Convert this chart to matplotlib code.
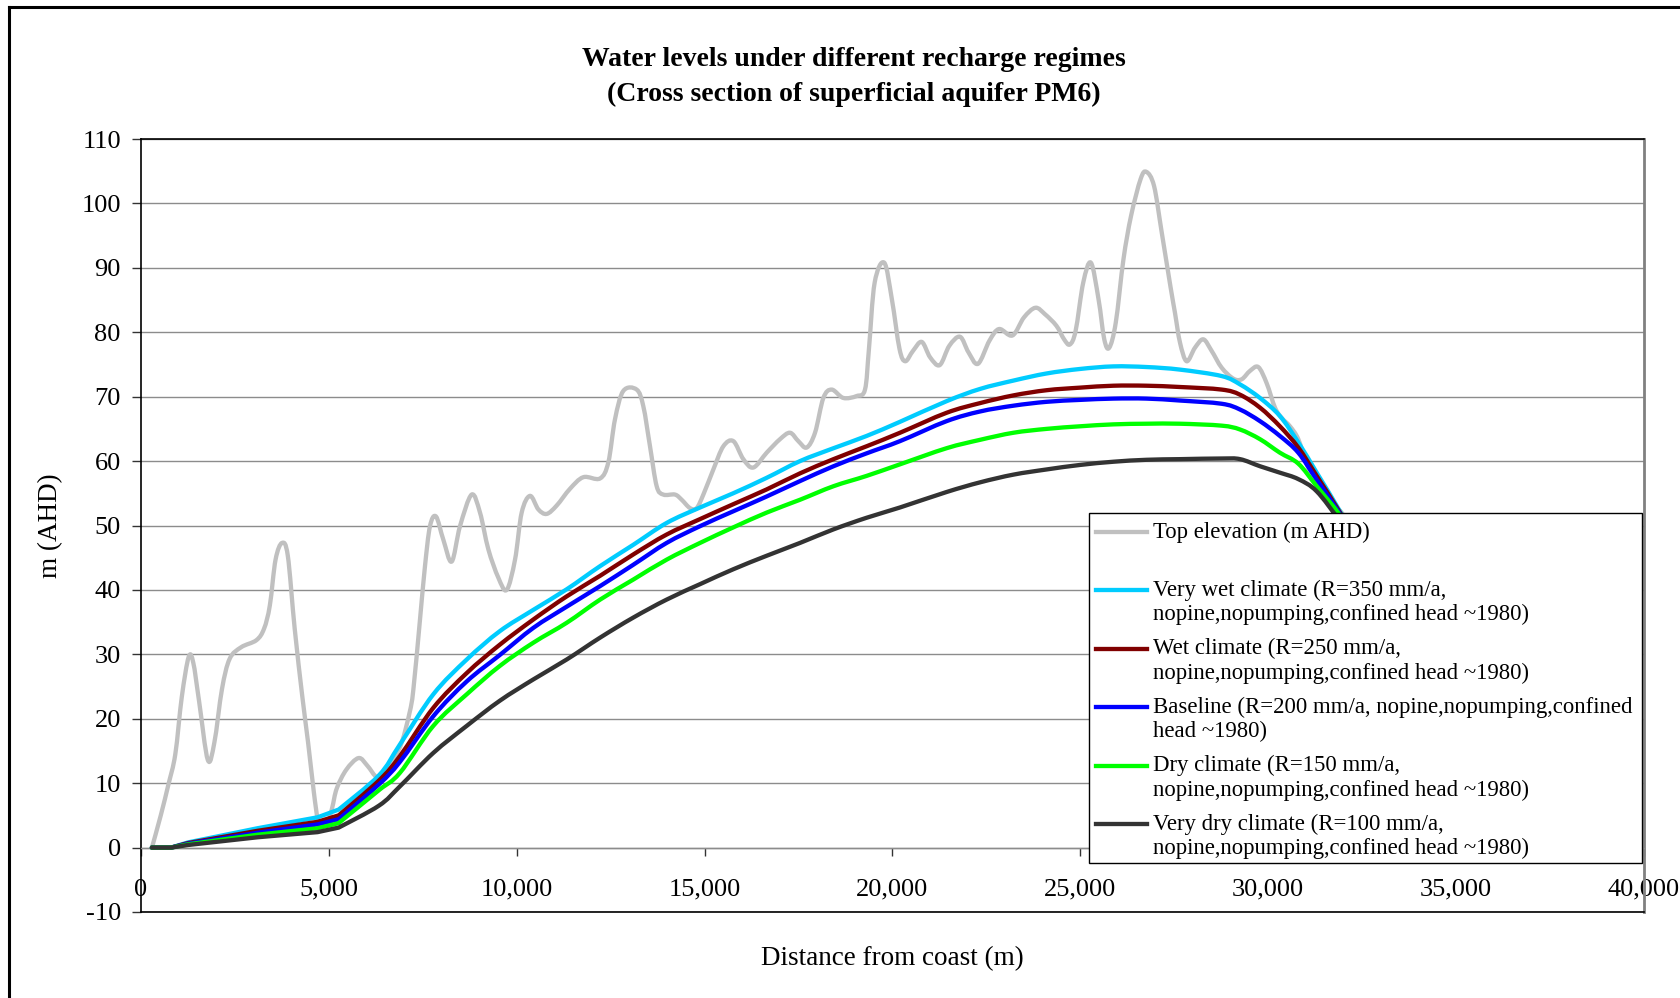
import matplotlib
matplotlib.use("Agg")
import matplotlib.pyplot as plt
from matplotlib.lines import Line2D
from matplotlib.patches import Rectangle, PathPatch
from matplotlib.path import Path
from matplotlib.ticker import StrMethodFormatter, MultipleLocator

plt.rcParams['font.family'] = ['Liberation Serif', 'DejaVu Serif']
plt.rcParams['axes.unicode_minus'] = False

# ---------------- data ----------------
# ground surface along the transect (distance from coast in m, elevation m AHD)
top_x = [291, 526, 730, 913, 1086, 1269, 1391, 1544, 1778, 1952, 2155, 2359, 2665,
         3072, 3276, 3429, 3581, 3754, 3907, 4090, 4294, 4447, 4600, 4700, 4780,
         4980, 5089, 5211, 5465, 5791, 6026, 6280, 6500, 6750, 6950, 7150, 7248,
         7425, 7558, 7691, 7851, 8046, 8268, 8490, 8800, 9022, 9244, 9510, 9732,
         9954, 10131, 10353, 10575, 10797, 11063, 11417, 11772, 12216, 12437,
         12615, 12837, 13192, 13369, 13546, 13724, 13901, 14212, 14389, 14611,
         14788, 14966, 15232, 15498, 15764, 16030, 16297, 16651, 17006, 17272,
         17494, 17716, 17938, 18160, 18382, 18692, 19047, 19268, 19373, 19525,
         19780, 19984, 20187, 20340, 20544, 20778, 21002, 21257, 21512, 21797,
         22021, 22275, 22581, 22836, 23192, 23498, 23803, 24058, 24363, 24567,
         24720, 24873, 25076, 25280, 25484, 25636, 25769, 25942, 26146, 26350,
         26604, 26757, 26961, 27165, 27400, 27518, 27651, 27828, 28050, 28272,
         28494, 28760, 29070, 29292, 29514, 29735, 29957, 30179, 30357, 30578,
         30800, 31022, 31288, 31643, 31953, 32300]
top_elev = [0, 5, 9.8, 14.5, 23.4, 29.6, 28.7, 22.8, 13.6, 16.3, 24.6, 29.3, 31.1,
            32.2, 34, 37.6, 44.7, 47.3, 45.3, 34, 23.4, 16.3, 8.6, 4.5, 3.8,
            4.2, 6.2, 9.2, 12.1, 13.9, 12.7, 10.9, 11.5, 14, 16.5, 21, 24.5,
            35.4, 43.7, 49.9, 51.4, 47.8, 44.4, 49.9, 54.8, 52, 46.3, 41.9, 40,
            44.7, 52, 54.6, 52.5, 51.8, 53.1, 55.7, 57.5, 57.3, 59.8,
            66.5, 70.9, 71.1, 68.5, 62.3, 56.1, 54.8, 54.8, 54, 52.7,
            52.7, 54.8, 58.7, 62.3, 63.1, 60.3, 59, 61.3, 63.4, 64.4,
            63.1, 62.1, 64.4, 69.8, 71.1, 69.8, 70.1, 71.1, 77.4, 87.7,
            90.8, 85.1, 77.4, 75.5, 77.1, 78.5, 76.1, 74.9, 77.9, 79.3,
            76.9, 75.1, 78.7, 80.5, 79.5, 82.3, 83.8, 82.8, 81, 78.9,
            78.1, 80.2, 87.7, 90.8, 85.1, 78.9, 77.6, 81.5, 91.3, 98.1,
            103.8, 104.9, 102.7, 95.5, 87, 83, 78.4, 75.5, 77.6, 78.9,
            77.1, 74.5, 72.8, 72.7, 74, 74.6, 72.1, 68.3, 66.7, 65.4,
            63.4, 59.5, 56.6, 53.5, 52, 48.5]

# model nodes shared by the simulated water-level profiles
head_x = [290, 800, 1250, 3100, 4700, 5260, 6330, 6890, 7780, 8670, 9550, 10440,
          11330, 12220, 13100, 13990, 14880, 15760, 16650, 17540, 18430, 19310,
          20200, 21440, 22330, 23220, 24100, 24990, 25880, 26760, 27650, 28760,
          29250, 29780, 30310, 30800, 31290, 31910, 32400]
very_wet = [0, 0, 0.8, 3.0, 4.7, 5.9, 11.2, 16.0, 23.8, 29.2, 33.6, 36.9,
            40.1, 43.7, 47.0, 50.4, 52.8, 55.0, 57.4, 60.0, 62.0, 63.9,
            66.1, 69.3, 71.2, 72.5, 73.6, 74.3, 74.7, 74.6, 74.2, 73.2,
            71.9, 69.8, 67.0, 62.9, 58.2, 52.2, 47]
wet = [0, 0, 0.7, 2.6, 4.0, 5.0, 10.4, 14.2, 21.7, 27.1, 31.5, 35.4,
       39.0, 42.2, 45.5, 48.6, 51.0, 53.3, 55.6, 58.1, 60.3, 62.3,
       64.4, 67.5, 69.0, 70.2, 71.0, 71.4, 71.7, 71.7, 71.5, 71.1,
       70.3, 68.3, 65.4, 62.1, 57.7, 52.0, 47]
baseline = [0, 0, 0.6, 2.3, 3.6, 4.4, 9.8, 13.3, 20.4, 25.8, 29.9, 34.1,
            37.4, 40.6, 43.9, 47.3, 49.9, 52.2, 54.5, 56.9, 59.2, 61.2,
            63.1, 66.2, 67.7, 68.6, 69.2, 69.5, 69.7, 69.7, 69.4, 68.9,
            68.0, 66.2, 63.9, 61.3, 57.1, 51.8, 47]
dry = [0, 0, 0.5, 2.0, 3.0, 3.8, 8.9, 11.6, 18.9, 23.8, 28.2, 31.8,
       34.9, 38.5, 41.6, 44.7, 47.3, 49.7, 52.0, 54.0, 56.1, 57.7,
       59.5, 62.0, 63.3, 64.4, 65.0, 65.4, 65.7, 65.8, 65.8, 65.5,
       64.9, 63.4, 61.3, 59.6, 56.1, 51.6, 47]
very_dry = [0, 0, 0.4, 1.6, 2.4, 3.1, 6.5, 9.5, 14.7, 18.9, 22.8, 26.1,
            29.2, 32.6, 35.7, 38.5, 40.9, 43.2, 45.3, 47.3, 49.4, 51.2,
            52.8, 55.2, 56.7, 57.9, 58.7, 59.4, 59.9, 60.2, 60.3, 60.4,
            60.3, 59.2, 58.2, 57.2, 55.3, 50.6, 46]

series_labels = [
    "Top elevation (m AHD)\n",
    "Very wet climate (R=350 mm/a,\nnopine,nopumping,confined head ~1980)",
    "Wet climate (R=250 mm/a,\nnopine,nopumping,confined head ~1980)",
    "Baseline (R=200 mm/a, nopine,nopumping,confined\nhead ~1980)",
    "Dry climate (R=150 mm/a,\nnopine,nopumping,confined head ~1980)",
    "Very dry climate (R=100 mm/a,\nnopine,nopumping,confined head ~1980)",
]
series_colors = ["#C0C0C0", "#00CCFF", "#800000", "#0000FF", "#00FF00", "#333333"]

title_lines = ["Water levels under different recharge regimes",
               "(Cross section of superficial aquifer PM6)"]
x_label = "Distance from coast (m)"
y_label = "m (AHD)"

# ---------------- figure ----------------
W, H = 1681, 998
fig = plt.figure(figsize=(W / 100, H / 100), dpi=100)


def fx(px):
    return px / W


def fy(py):
    return 1 - py / H


def smooth_path(x, y, corner=0):
    """Path through every (x, y) point: straight segments up to index `corner`,
    Bezier segments with Catmull-Rom tangents after it."""
    pts = list(zip(x, y))
    n = len(pts)
    verts = [pts[0]]
    codes = [Path.MOVETO]
    for i in range(n - 1):
        p1 = pts[i]
        p2 = pts[i + 1]
        if i < corner:
            verts.append(p2)
            codes.append(Path.LINETO)
            continue
        p0 = pts[i - 1] if i > corner else pts[i]
        p3 = pts[i + 2] if i + 2 < n else pts[i + 1]
        c1 = (p1[0] + (p2[0] - p0[0]) / 6, p1[1] + (p2[1] - p0[1]) / 6)
        c2 = (p2[0] - (p3[0] - p1[0]) / 6, p2[1] - (p3[1] - p1[1]) / 6)
        verts += [c1, c2, p2]
        codes += [Path.CURVE4] * 3
    return Path(verts, codes)


# outer chart frame (left and top edges)
fig.add_artist(Line2D([fx(9), fx(9)], [0, fy(7)], color="black", lw=2.2,
                      transform=fig.transFigure))
fig.add_artist(Line2D([fx(9), 1], [fy(7), fy(7)], color="black", lw=2.2,
                      transform=fig.transFigure))

ax = fig.add_axes([fx(141), fy(912), (1644 - 141) / W, (912 - 139) / H])

# ground surface: smoothed curve
ax.add_patch(PathPatch(smooth_path(top_x, top_elev), facecolor="none",
                       edgecolor=series_colors[0], lw=3.1, capstyle="round",
                       joinstyle="round", zorder=3))
# heads: straight near the coast, smoothed inland from the 5.26 km node
corner_idx = head_x.index(5260)
for y, c in zip([very_wet, wet, baseline, dry, very_dry], series_colors[1:]):
    ax.add_patch(PathPatch(smooth_path(head_x, y, corner=corner_idx),
                           facecolor="none", edgecolor=c, lw=3.1,
                           capstyle="round", joinstyle="round", zorder=3))

ax.set_xlim(0, 40000)
ax.set_ylim(-10, 110)
ax.xaxis.set_major_locator(MultipleLocator(5000))
ax.yaxis.set_major_locator(MultipleLocator(10))
ax.xaxis.set_major_formatter(StrMethodFormatter("{x:,.0f}"))
ax.yaxis.set_major_formatter(StrMethodFormatter("{x:.0f}"))

ax.set_axisbelow(True)
ax.yaxis.grid(True, color="#8c8c8c", lw=1.0)

# horizontal axis crosses at zero
ax.spines["bottom"].set_position(("data", 0))
ax.spines["bottom"].set_color("#8c8c8c")
ax.spines["bottom"].set_linewidth(1.0)
ax.spines["left"].set_color("black")
ax.spines["left"].set_linewidth(1.2)
ax.spines["top"].set_color("black")
ax.spines["top"].set_linewidth(1.2)
ax.spines["right"].set_color("#808080")
ax.spines["right"].set_linewidth(2.0)
ax.plot([0, 1], [0, 0], transform=ax.transAxes, color="black", lw=1.2,
        clip_on=False, zorder=4)

ax.tick_params(axis="y", direction="out", length=6.5, width=1, color="#333333",
               labelsize=19, pad=8)
ax.tick_params(axis="x", direction="out", length=5.5, width=1, color="#333333",
               labelsize=19, pad=17)

ax.set_xlabel(x_label, fontsize=19.5)
ax.xaxis.set_label_coords(0.5, -(959 - 912) / 773)
ax.xaxis.label.set_va("center")
ax.set_ylabel(y_label, fontsize=19.5)
ax.yaxis.set_label_coords((51 - 141) / 1503, 0.5)
ax.yaxis.label.set_va("center")

for line, ypx in zip(title_lines, [60, 94]):
    fig.text(fx(854), fy(ypx), line, ha="center", va="center",
             fontsize=20, fontweight="bold")

# legend box with handles aligned to the first text line of each entry
fig.add_artist(Rectangle((fx(1089), fy(863)), (1642 - 1089) / W, (863 - 513) / H,
                         transform=fig.transFigure, facecolor="white",
                         edgecolor="black", lw=1.0, zorder=10))
for i, (lab, col) in enumerate(zip(series_labels, series_colors)):
    y0 = 532 + i * 58.4
    fig.add_artist(Line2D([fx(1096), fx(1147)], [fy(y0), fy(y0)], color=col,
                          lw=3.1, transform=fig.transFigure, zorder=11))
    for k, line in enumerate(lab.split("\n")):
        if line:
            fig.text(fx(1153), fy(y0 + k * 24.5), line, ha="left", va="center",
                     fontsize=16.4, zorder=12)

fig.savefig("out.png", dpi=100)
